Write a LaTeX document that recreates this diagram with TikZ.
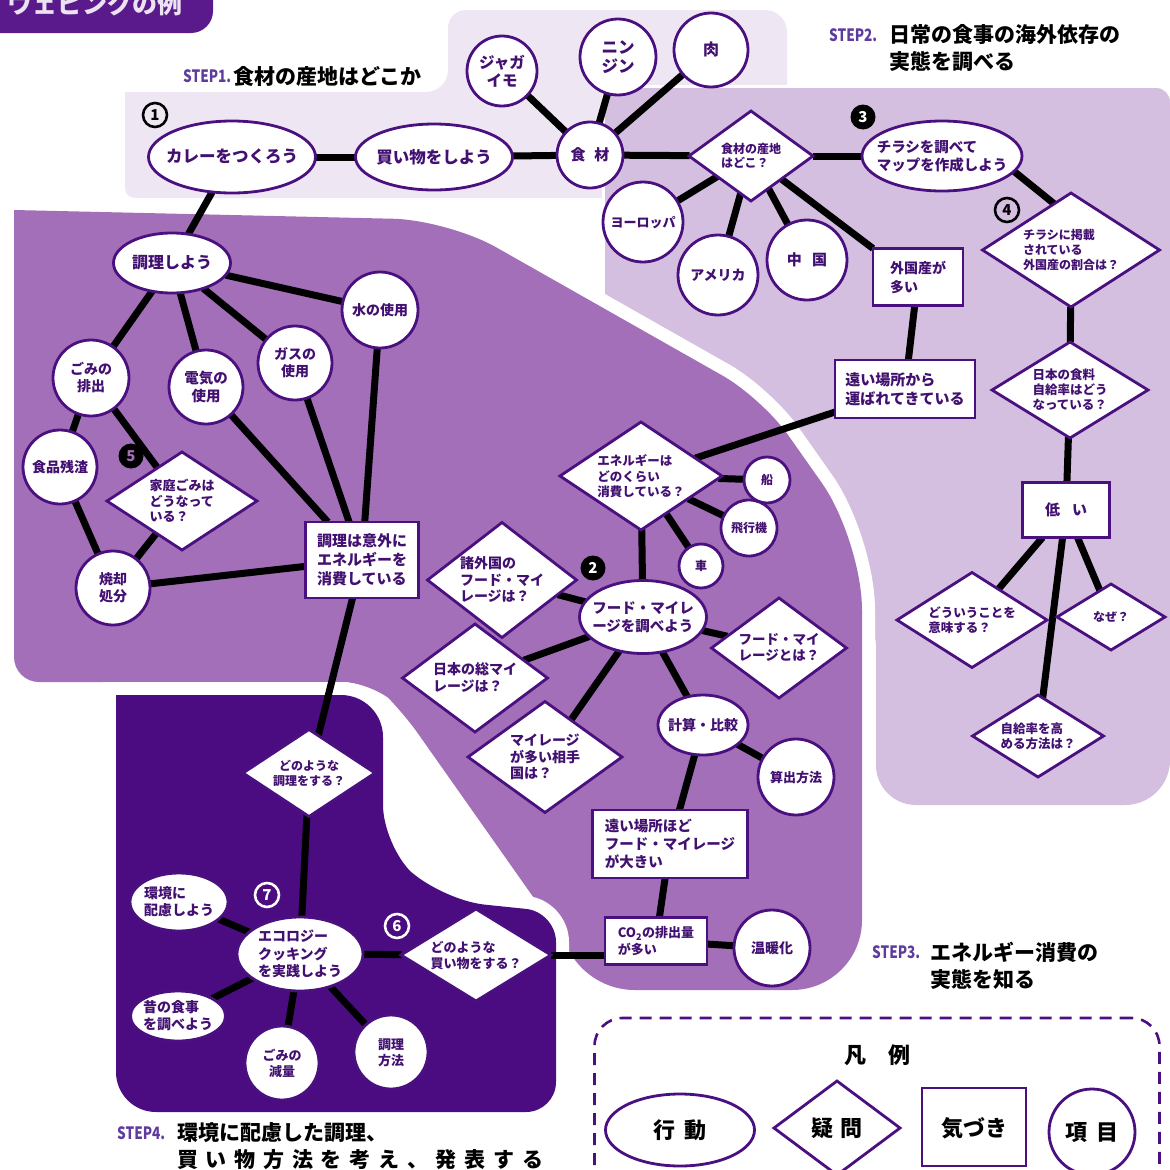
\documentclass[tikz,border=0pt]{standalone}
\usepackage{fontspec}
\setmainfont{Noto Sans CJK JP}
\usetikzlibrary{shapes.geometric}
\pgfdeclarelayer{bg}
\pgfdeclarelayer{edges}
\pgfsetlayers{bg,edges,main}
\definecolor{sA}{HTML}{EEE7F3}
\definecolor{sB}{HTML}{D5BFE0}
\definecolor{sC}{HTML}{A26FB8}
\definecolor{sD}{HTML}{4A0C80}
\definecolor{ttl}{HTML}{5A1A8C}
\definecolor{nb}{HTML}{4A1080}
\definecolor{nt}{HTML}{421070}
\definecolor{stp}{HTML}{5E3C9E}
\newcommand{\ZC}[1]{\makebox[0pt]{\raisebox{-0.38em}[0pt][0pt]{\begin{tabular}{@{}c@{}}#1\end{tabular}}}}
\newcommand{\ZL}[1]{\makebox[0pt]{\raisebox{-0.38em}[0pt][0pt]{\begin{tabular}{@{}l@{}}#1\end{tabular}}}}
\tikzset{
  nd/.style={draw=nb, line width=2.8pt, fill=white, inner sep=0pt, outer sep=0pt, text=nt, font=\bfseries\fontsize{13}{15}\selectfont},
  elp/.style={nd, ellipse},
  cir/.style={nd, circle},
  box/.style={nd, rectangle},
  dia/.style={nd, diamond},
  wh/.style 2 args={minimum width=#1, minimum height=#2},
  rad/.style={minimum size=2*#1},
  fs/.style 2 args={font=\bfseries\fontsize{#1}{#2}\selectfont},
  lnk/.style={line width=7pt, black},
  numo/.style={circle, draw=#1, text=#1, line width=2.6pt, inner sep=0pt, minimum size=24, font=\bfseries\fontsize{15}{15}\selectfont},
  numf/.style={circle, fill=black, text=#1, inner sep=0pt, minimum size=25, font=\bfseries\fontsize{15}{15}\selectfont},
  lg/.style={text=black, fs={22}{24}},
  stepjp/.style={anchor=west, inner sep=0pt, text=black, fs={21}{22}},
  steptag/.style={anchor=west, inner sep=0pt, text=stp, fs={17}{17}},
  rc/.style={rounded corners=#1},
}
\begin{document}
\begin{tikzpicture}[x=1pt,y=-1pt]
\useasboundingbox (0,0) rectangle (1170,1170);

% ---------- region backgrounds ----------
\begin{pgfonlayer}{bg}
\clip (0,0) rectangle (1170,1170);
\fill[white] (0,0) rectangle (1170,1170);
% STEP1
\fill[sA] (125,150) -- (125,92) [rc=22] -- (448,92) [rc=18] -- (448,10) [rc=22] -- (787,10) [rc=22] -- (787,198) [rc=10] -- (125,198) [rc=22] -- cycle;
% STEP2
\path[fill=sB, preaction={draw=white, line width=6pt}] (605,300) -- (605,88) [rc=14] -- (1170,88) [rc=45] -- (1170,805) [rc=40] -- (876,805) [rc=25] -- (876,620) [rc=0] -- (605,620) [rc=0] -- cycle;
% STEP3
\path[fill=sC, preaction={draw=white, line width=26pt}] (14,450) -- (14,210) [rc=55] -- (448,220) [rc=45] -- (762,398) [rc=70] -- (862,540) [rc=70] -- (862,990) [rc=75] -- (560,990) [rc=0] -- (560,935) [rc=30] -- (400,708) [rc=30] -- (372,682) [rc=25] -- (14,682) [rc=50] -- cycle;
% STEP4
\path[fill=sD, preaction={draw=white, line width=26pt}] (116,900) -- (116,695) [rc=42] -- (383,695) [rc=40] -- (383,845) [rc=45] -- (440,900) [rc=30] -- (556,912) [rc=30] -- (556,1112) [rc=40] -- (116,1112) [rc=50] -- cycle;
% title bar
\fill[ttl, rounded corners=22] (-40,-40) rectangle (213,33);
\end{pgfonlayer}

\node[anchor=west, inner sep=0pt, text=white!88!ttl, fs={25}{25}] (title) at (7,4) {ウェビングの例};

% ---------- step labels ----------
\node[steptag] (st1tag) at (183,76) {\scalebox{0.8}[1]{STEP1.}};
\node[stepjp] (st1) at (233,76) {食材の産地はどこか};
\node[steptag] (st2tag) at (829,35) {\scalebox{0.8}[1]{STEP2.}};
\node[stepjp] (st2a) at (889,35) {日常の食事の海外依存の};
\node[stepjp] (st2b) at (889,61) {実態を調べる};
\node[steptag] (st3tag) at (872,952) {\scalebox{0.8}[1]{STEP3.}};
\node[stepjp] (st3a) at (930,952) {エネルギー消費の};
\node[stepjp] (st3b) at (930,979) {実態を知る};
\node[steptag] (st4tag) at (117,1133) {\scalebox{0.8}[1]{STEP4.}};
\node[stepjp] (st4a) at (177,1133) {環境に配慮した調理、};
\node[stepjp] (st4b) at (177,1160) {\makebox[366pt][s]{買\hfill い\hfill 物\hfill 方\hfill 法\hfill を\hfill 考\hfill え\hfill 、\hfill 発\hfill 表\hfill す\hfill る}};

% ---------- STEP1 / STEP2 nodes ----------
\node[elp, wh={167}{72}, fs={16.5}{19}] (curry) at (232,157) {\ZC{カレーをつくろう}};
\node[elp, wh={157}{66}, fs={16.5}{19}] (shop) at (434,157) {\ZC{買い物をしよう}};
\node[cir, rad=33, fs={15}{17}] (shoku) at (590,155) {\ZC{食\hspace{0.6em}材}};
\node[cir, rad=35, fs={15.5}{18}] (jaga) at (502,71) {\ZC{ジャガ\\イモ}};
\node[cir, rad=38, fs={16.5}{19}] (ninjin) at (618,57) {\ZC{ニン\\ジン}};
\node[cir, rad=37, fs={16}{19}] (niku) at (711,50) {\ZC{肉}};
\node[dia, wh={124}{90}, fs={12}{14}] (sanchi) at (751,156) {\ZL{食材の産地\\はどこ？}};
\node[cir, rad=40, fs={13}{15}] (euro) at (643,222) {\ZC{ヨーロッパ}};
\node[cir, rad=40, fs={14}{16}] (usa) at (718,275) {\ZC{アメリカ}};
\node[cir, rad=40, fs={15}{17}] (china) at (807,260) {\ZC{中\hspace{0.7em}国}};
\node[box, wh={90}{57}, fs={14}{19}] (gaikoku) at (918,277) {\ZL{外国産が\\多い}};
\node[box, wh={140}{58}, fs={15}{19}] (tooi) at (905,389) {\ZL{遠い場所から\\運ばれてきている}};
\node[elp, wh={160}{70}, fs={14.5}{18}] (chirashi) at (942,156) {\ZL{チラシを調べて\\マップを作成しよう}};
\node[dia, wh={177}{114}, fs={12}{15}] (keisai) at (1071,250) {\ZL{チラシに掲載\\されている\\外国産の割合は？}};
\node[dia, wh={156}{96}, fs={12.5}{15}] (jikyu) at (1070,390) {\ZL{日本の食料\\自給率はどう\\なっている？}};
\node[box, wh={87}{55}, fs={15}{17}] (hikui) at (1066,510) {\ZC{低\hspace{0.8em}い}};
\node[dia, wh={150}{95}, fs={12.5}{15}] (imi) at (972,620) {\ZL{どういうことを\\意味する？}};
\node[dia, wh={108}{66}, fs={12}{14}] (naze) at (1111,617) {\ZC{なぜ？}};
\node[dia, wh={131}{82}, fs={12.5}{15}] (takameru) at (1038,736) {\ZL{自給率を高\\める方法は？}};

% ---------- STEP3 nodes ----------
\node[dia, wh={162}{108}, fs={12.5}{15}] (energy) at (641,476) {\ZL{エネルギーは\\どのくらい\\消費している？}};
\node[cir, rad=23, fs={12}{14}] (fune) at (767,480) {\ZC{船}};
\node[cir, rad=28, fs={12}{14}] (hikoki) at (749,528) {\ZC{飛行機}};
\node[cir, rad=22, fs={12}{14}] (kuruma) at (701,566) {\ZC{車}};
\node[elp, wh={127}{73}, fs={14.5}{18}] (fm) at (643,617) {\ZL{フード・マイレ\\ージを調べよう}};
\node[dia, wh={149}{115}, fs={14}{16.5}] (shogaikoku) at (502,580) {\ZL{諸外国の\\フード・マイ\\レージは？}};
\node[dia, wh={135}{100}, fs={13.5}{16}] (fmtowa) at (779,648) {\ZL{フード・マイ\\レージとは？}};
\node[dia, wh={145}{108}, fs={14}{16.5}] (nihon) at (475,678) {\ZL{日本の総マイ\\レージは？}};
\node[dia, wh={154}{111}, fs={14}{16.5}] (aite) at (545,757) {\ZL{マイレージ\\が多い相手\\国は？}};
\node[elp, wh={90}{60}, fs={14}{16}] (keisan) at (703,725) {\ZC{計算・比較}};
\node[cir, rad=38, fs={13}{15}] (sanshutsu) at (796,777) {\ZC{算出方法}};
\node[box, wh={155}{68}, fs={14.5}{18}] (hodo) at (670,844) {\ZL{遠い場所ほど\\フード・マイレージ\\が大きい}};
\node[box, wh={102}{47}, fs={13}{17}] (co2) at (656,941) {\ZL{CO\textsubscript{2}の排出量\\が多い}};
\node[cir, rad=38, fs={14}{16}] (ondan) at (772,948) {\ZC{温暖化}};

\node[elp, wh={117}{60}, fs={16}{18}] (chori) at (172,263) {\ZC{調理しよう}};
\node[cir, rad=38, fs={14}{16}] (mizu) at (380,310) {\ZC{水の使用}};
\node[cir, rad=38, fs={14}{17}] (gomi) at (91,378) {\ZC{ごみの\\排出}};
\node[cir, rad=37, fs={14.5}{17}] (denki) at (206,387) {\ZC{電気の\\使用}};
\node[cir, rad=37, fs={14}{17}] (gas) at (295,363) {\ZC{ガスの\\使用}};
\node[cir, rad=37, fs={14}{16}] (zansa) at (60,467) {\ZC{食品残渣}};
\node[dia, wh={150}{98}, fs={13}{15.5}] (katei) at (182,501) {\ZL{家庭ごみは\\どうなって\\いる？}};
\node[cir, rad=37, fs={14}{17}] (shokyaku) at (113,588) {\ZC{焼却\\処分}};
\node[box, wh={113}{76}, fs={15}{19}] (igai) at (362,560) {\ZL{調理は意外に\\エネルギーを\\消費している}};

% ---------- STEP4 nodes ----------
\node[dia, wh={132}{87}, fs={12}{15}] (choriq) at (309,773) {\ZC{どのような\\調理をする？}};
\node[elp, wh={126}{74}, fs={14}{16.5}] (eco) at (300,954) {\ZL{エコロジー\\クッキング\\を実践しよう}};
\node[elp, wh={98}{58}, fs={14}{17}] (kankyo) at (179,902) {\ZL{環境に\\配慮しよう}};
\node[elp, wh={95}{50}, fs={14}{17}] (mukashi) at (178,1016) {\ZL{昔の食事\\を調べよう}};
\node[cir, rad=37, fs={13}{16}] (genryo) at (282,1063) {\ZC{ごみの\\減量}};
\node[cir, rad=37, fs={13}{16}] (hoho) at (391,1052) {\ZC{調理\\方法}};
\node[dia, wh={150}{92}, fs={13}{15.5}] (kaimono) at (476,955) {\ZL{どのような\\買い物をする？}};

% ---------- circled numbers ----------
\node[numo=black] (n1) at (155,115) {\ZC{1}};
\node[numf=white] (n2) at (593,568) {\ZC{2}};
\node[numf=white] (n3) at (863,117) {\ZC{3}};
\node[numo=black] (n4) at (1007,210) {\ZC{4}};
\node[numf=sC] (n5) at (131,456) {\ZC{5}};
\node[numo=white] (n6) at (397,926) {\ZC{6}};
\node[numo=white] (n7) at (267,895) {\ZC{7}};

% ---------- connectors ----------
\begin{pgfonlayer}{edges}
\draw[lnk] (curry) -- (shop);
\draw[lnk] (shop) -- (shoku);
\draw[lnk] (shoku) -- (jaga);
\draw[lnk] (shoku) -- (ninjin);
\draw[lnk] (shoku) -- (niku);
\draw[lnk] (shoku) -- (sanchi);
\draw[lnk] (sanchi) -- (euro);
\draw[lnk] (sanchi) -- (usa);
\draw[lnk] (sanchi) -- (china);
\draw[lnk] (sanchi) -- (gaikoku.north west);
\draw[lnk] (sanchi) -- (chirashi);
\draw[lnk] (chirashi.-12) -- (keisai.110);
\draw[lnk] (keisai) -- (jikyu);
\draw[lnk] (jikyu) -- (hikui);
\draw[lnk] (hikui) -- (imi);
\draw[lnk] (hikui) -- (naze);
\draw[lnk] (hikui) -- (takameru);
\draw[lnk] (gaikoku) -- (tooi);
\draw[lnk] (tooi) -- (energy);
\draw[lnk] (energy) -- (fune);
\draw[lnk] (energy) -- (hikoki);
\draw[lnk] (energy) -- (kuruma);
\draw[lnk] (energy) -- (fm);
\draw[lnk] (fm) -- (shogaikoku);
\draw[lnk] (fm) -- (fmtowa);
\draw[lnk] (fm) -- (nihon);
\draw[lnk] (fm) -- (aite);
\draw[lnk] (fm) -- (keisan);
\draw[lnk] (keisan) -- (sanshutsu);
\draw[lnk] (keisan) -- (hodo);
\draw[lnk] (hodo) -- (co2);
\draw[lnk] (co2) -- (ondan);
\draw[lnk] (kaimono.east) -- (kaimono.east -| co2.west);
\draw[lnk] (curry) -- (chori);
\draw[lnk] (chori) -- (mizu);
\draw[lnk] (chori) -- (gomi);
\draw[lnk] (chori) -- (denki);
\draw[lnk] (chori) -- (gas);
\draw[lnk] (gomi) -- (zansa);
\draw[lnk] (gomi) -- (katei);
\draw[lnk] (zansa) -- (shokyaku);
\draw[lnk] (katei) -- (shokyaku);
\draw[lnk] (shokyaku) -- (igai);
\draw[lnk] (denki) -- (igai);
\draw[lnk] (gas) -- (igai);
\draw[lnk] (mizu) -- (igai);
\draw[lnk] (igai) -- (choriq);
\draw[lnk] (choriq) -- (eco);
\draw[lnk] (eco) -- (kankyo);
\draw[lnk] (eco) -- (mukashi);
\draw[lnk] (eco) -- (genryo);
\draw[lnk] (eco) -- (hoho);
\draw[lnk] (eco) -- (kaimono);
\end{pgfonlayer}

% ---------- legend ----------
\node[draw=nb, line width=2.6pt, dash pattern=on 12pt off 8pt, rounded corners=28, minimum width=565, minimum height=180, inner sep=0pt] (legend) at (877,1108) {};
\node[lg] (hanrei) at (877,1055) {\ZC{凡\hspace{1em}例}};
\node[elp, wh={149}{72}, lg] (lg1) at (680,1130) {\ZC{行\hspace{0.45em}動}};
\node[dia, wh={126}{94}, lg] (lg2) at (837,1128) {\ZC{疑\hspace{0.3em}問}};
\node[box, wh={104}{78}, lg] (lg3) at (974,1127) {\ZC{気づき}};
\node[cir, rad=43, lg] (lg4) at (1092,1132) {\ZC{項\hspace{0.4em}目}};
\end{tikzpicture}
\end{document}
